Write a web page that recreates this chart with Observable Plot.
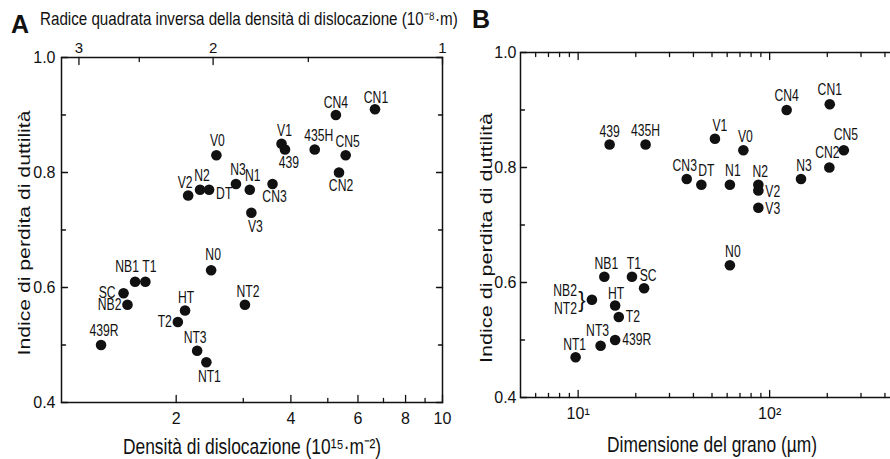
<!DOCTYPE html>
<html><head><meta charset="utf-8">
<script src="https://cdn.jsdelivr.net/npm/d3@7"></script>
<script src="https://cdn.jsdelivr.net/npm/@observablehq/plot@0.6"></script>
<style>
html,body{margin:0;padding:0;background:#fff;overflow:hidden;width:890px;height:459px;}
#wrap{position:relative;width:890px;height:459px;overflow:hidden;}
.panel{position:absolute;top:0;}
.tag{position:absolute;font-family:"Liberation Sans",Arial,sans-serif;font-weight:bold;font-size:25px;color:#111;line-height:1;}
.title{position:absolute;font-family:"Liberation Sans",Arial,sans-serif;font-size:18.5px;color:#111;line-height:1;white-space:nowrap;transform:scaleX(0.82);transform-origin:0 0;}
</style></head>
<body><div id="wrap">
<div id="pa" class="panel" style="left:0;width:460px"></div>
<div id="pb" class="panel" style="left:440px;width:475px"></div>
<div class="tag" style="left:11px;top:12px">A</div>
<div class="title" style="left:40px;top:10px">Radice quadrata inversa della densità di dislocazione (10⁻⁸·m)</div>
<div class="tag" style="left:472px;top:7px">B</div>
</div>
<script>
// ---------- Panel A data ----------
const namesA = ["CN1","CN4","V1","439","435H","CN5","CN2","V0","V2","N2","DT","N3","N1","V3","CN3","N0","NB1","T1","SC","NB2","439R","HT","T2","NT3","NT1","NT2"];
const densityA = [6.65,5.25,3.78,3.86,4.62,5.57,5.35,2.55,2.15,2.31,2.44,2.87,3.12,3.15,3.58,2.47,1.56,1.66,1.455,1.49,1.27,2.11,2.02,2.27,2.40,3.03];
const ductA = [0.91,0.90,0.85,0.84,0.84,0.83,0.80,0.83,0.76,0.77,0.77,0.78,0.77,0.73,0.78,0.63,0.61,0.61,0.59,0.57,0.50,0.56,0.54,0.49,0.47,0.57];

// ---------- Panel B data ----------
const namesB = ["CN4","CN1","439","435H","V1","V0","CN3","DT","N1","N2","V2","V3","N3","CN2","CN5","N0","NB1","T1","SC","NB2/NT2","HT","T2","439R","NT3","NT1"];
const grainB = [122.7,206,14.6,22.5,51.8,72.9,36.9,44,62,87.3,87.3,87.3,145.8,205,244,62,13.7,19.1,22.1,11.8,15.6,16.3,15.6,13.1,9.7];
const ductB = [0.90,0.91,0.84,0.84,0.85,0.83,0.78,0.77,0.77,0.77,0.76,0.73,0.78,0.80,0.83,0.63,0.61,0.61,0.59,0.57,0.56,0.54,0.50,0.49,0.47];

// ---------- tick labels ----------
const yMajor = [0.4,0.6,0.8,1.0];
const yMinor = [0.5,0.7,0.9];
const xMajorA = [2,4,6,8,10];
const xMinorA = [3,5,7,9];
const topMajorA = [3,2,1];        // inverse sqrt density (1e-8 m)
const topMinorA = [2.5,1.5];
const xMajorB = [10,100];
const xMinorB = [6,7,8,9,20,30,40,50,60,70,80,90,200,300,400];

// label placement (style only): [dx, dy, textAnchor]
const placeA = {CN1:[1,-11],CN4:[0,-12],V1:[3,-13],"439":[4,13],"435H":[4,-14],CN5:[2,-13],CN2:[2,13],V0:[1,-14],V2:[-3,-13],N2:[2,-14],DT:[7,4,"start"],N3:[2,-14],N1:[3,-14],V3:[4,14],CN3:[2,13],N0:[2,-15],NB1:[-8,-15],T1:[4,-15],SC:[-8,0,"end"],NB2:[-6,0,"end"],"439R":[3,-14],HT:[1,-13],T2:[-6,0,"end"],NT3:[-2,-13],NT1:[3,15],NT2:[3,-13]};
const placeB = {CN4:[0,-14],CN1:[0,-14],"439":[0,-13],"435H":[0,-14],V1:[5,-13],V0:[2,-13],CN3:[-2,-13],DT:[5,-14],N1:[3,-14],N2:[2,-13],V2:[7,1,"start"],V3:[7,1,"start"],N3:[3,-13],CN2:[-2,-15],CN5:[2,-15],N0:[3,-13],NB1:[2,-13],T1:[2,-13],SC:[4,-12],HT:[1,-12],T2:[7,0,"start"],"439R":[7,0,"start"],NT3:[-3,-15],NT1:[-1,-12]};

const FONT = '"Liberation Sans",Arial,sans-serif';
const INK = "#111";
const LBL = 16;     // point label font size
const tickShape = {draw(ctx, l) { ctx.moveTo(0, 0); ctx.lineTo(0, -l); }};
const vt = (vals, opts, len) => Plot.vector(vals, {length: len, anchor: "start", shape: tickShape, stroke: INK, strokeWidth: 1.3, ...opts});

function labelMarks(names, xs, ys, place) {
  const out = [];
  names.forEach((n, i) => {
    const p = place[n];
    if (!p) return;
    out.push(Plot.text([i], {x: j => xs[j], y: j => ys[j], text: j => names[j], dx: p[0], dy: p[1], textAnchor: p[2] || "middle", lineAnchor: "middle", fontSize: LBL, fill: INK, ariaDescription: "lbl"}));
  });
  return out;
}

// the reference type is condensed: squeeze glyphs with textLength (position untouched)
function squeeze(root, tag, factor, fixed) {
  root.querySelectorAll(`g[aria-description="${tag}"] text`).forEach(t => {
    const L = fixed != null ? fixed : t.getComputedTextLength() * factor;
    t.setAttribute("textLength", L);
    t.setAttribute("lengthAdjust", "spacingAndGlyphs");
  });
}

// ---------- Panel A ----------
const rho = v => 10 / (v * v); // density (1e15 m^-2) for an inverse sqrt density (1e-8 m)
const plotA = Plot.plot({
  width: 460, height: 459,
  marginLeft: 61, marginRight: 18, marginTop: 57, marginBottom: 57,
  x: {type: "log", domain: [1, 10]},
  y: {domain: [0.4, 1.0]},
  style: {fontFamily: FONT, fontSize: "16px", color: INK, background: "transparent"},
  marks: [
    Plot.frame({stroke: INK, strokeWidth: 1.5}),
    vt(xMajorA, {x: d => d, frameAnchor: "bottom", rotate: 0}, 7),
    vt(xMinorA, {x: d => d, frameAnchor: "bottom", rotate: 0}, 4),
    vt(topMajorA, {x: d => rho(d), frameAnchor: "top", rotate: 180}, 7),
    vt(topMinorA, {x: d => rho(d), frameAnchor: "top", rotate: 180}, 4),
    vt(yMajor, {y: d => d, frameAnchor: "left", rotate: 90}, 6),
    vt(yMinor, {y: d => d, frameAnchor: "left", rotate: 90}, 4),
    vt(yMajor, {y: d => d, frameAnchor: "right", rotate: -90}, 6),
    vt(yMinor, {y: d => d, frameAnchor: "right", rotate: -90}, 4),
    Plot.axisX({ticks: xMajorA, tickSize: 0, tickPadding: 10, tickFormat: d => String(d), label: null, fontSize: 16}),
    Plot.axisX({anchor: "top", ticks: topMajorA.map(rho), tickSize: 0, tickPadding: 5, tickFormat: d => String(Math.round(Math.sqrt(10 / d))), label: null, fontSize: 15}),
    Plot.axisY({ticks: yMajor, tickSize: 0, tickPadding: 6, tickFormat: d => d.toFixed(1), label: null, fontSize: 16}),
    Plot.dot(densityA.map((d, i) => i), {x: i => densityA[i], y: i => ductA[i], r: 5.3, fill: INK, stroke: "none"}),
    ...labelMarks(namesA, densityA, ductA, placeA),
    Plot.text(["Densità di dislocazione (10¹⁵·m⁻²)"], {frameAnchor: "bottom", dy: 44, text: d => d, textAnchor: "middle", lineAnchor: "middle", fontSize: 22, fill: INK, ariaDescription: "xt"}),
    Plot.text(["Indice di perdita di duttilità"], {frameAnchor: "left", dx: -37, dy: 3, rotate: -90, text: d => d, textAnchor: "middle", lineAnchor: "middle", fontSize: 17, fill: INK, ariaDescription: "yt"})
  ]
});
document.getElementById("pa").appendChild(plotA);
squeeze(plotA, "lbl", 0.76);
squeeze(plotA, "xt", 0.79);
squeeze(plotA, "yt", 1, 245);

// ---------- Panel B ----------
const sup = {1: "¹", 2: "²"};
const plotB = Plot.plot({
  width: 475, height: 459,
  marginLeft: 80, marginRight: 12, marginTop: 52, marginBottom: 62,
  x: {type: "log", domain: [5, 500]},
  y: {domain: [0.4, 1.0]},
  style: {fontFamily: FONT, fontSize: "16px", color: INK, background: "transparent"},
  marks: [
    Plot.frame({stroke: INK, strokeWidth: 1.5}),
    vt(xMajorB, {x: d => d, frameAnchor: "bottom", rotate: 0}, 7),
    vt(xMinorB, {x: d => d, frameAnchor: "bottom", rotate: 0}, 4),
    vt(xMajorB, {x: d => d, frameAnchor: "top", rotate: 180}, 7),
    vt(xMinorB, {x: d => d, frameAnchor: "top", rotate: 180}, 4),
    vt(yMajor, {y: d => d, frameAnchor: "left", rotate: 90}, 6),
    vt(yMinor, {y: d => d, frameAnchor: "left", rotate: 90}, 4),
    Plot.axisX({ticks: xMajorB, tickSize: 0, tickPadding: 10, tickFormat: d => "10" + sup[Math.round(Math.log10(d))], label: null, fontSize: 16}),
    Plot.axisY({ticks: yMajor, tickSize: 0, tickPadding: 4, tickFormat: d => d.toFixed(1), label: null, fontSize: 16}),
    Plot.dot(grainB.map((d, i) => i), {x: i => grainB[i], y: i => ductB[i], r: 5.3, fill: INK, stroke: "none"}),
    ...labelMarks(namesB, grainB, ductB, placeB),
    // NB2 and NT2 share one point
    Plot.text([19], {x: i => grainB[i], y: i => ductB[i], text: () => "NB2", dx: -15, dy: -9, textAnchor: "end", lineAnchor: "middle", fontSize: LBL, fill: INK, ariaDescription: "lbl"}),
    Plot.text([19], {x: i => grainB[i], y: i => ductB[i], text: () => "NT2", dx: -15, dy: 9, textAnchor: "end", lineAnchor: "middle", fontSize: LBL, fill: INK, ariaDescription: "lbl"}),
    Plot.text([19], {x: i => grainB[i], y: i => ductB[i], text: () => "}", dx: -10, dy: 0, lineAnchor: "middle", fontSize: 22, fill: INK}),
    Plot.text(["Dimensione del grano (µm)"], {frameAnchor: "bottom", dy: 47, text: d => d, textAnchor: "middle", lineAnchor: "middle", fontSize: 22, fill: INK, ariaDescription: "xt"}),
    Plot.text(["Indice di perdita di duttilità"], {frameAnchor: "left", dx: -34, dy: 13, rotate: -90, text: d => d, textAnchor: "middle", lineAnchor: "middle", fontSize: 17, fill: INK, ariaDescription: "yt"})
  ]
});
document.getElementById("pb").appendChild(plotB);
squeeze(plotB, "lbl", 0.76);
squeeze(plotB, "xt", 0.79);
squeeze(plotB, "yt", 1, 250);
</script>
</body></html>
